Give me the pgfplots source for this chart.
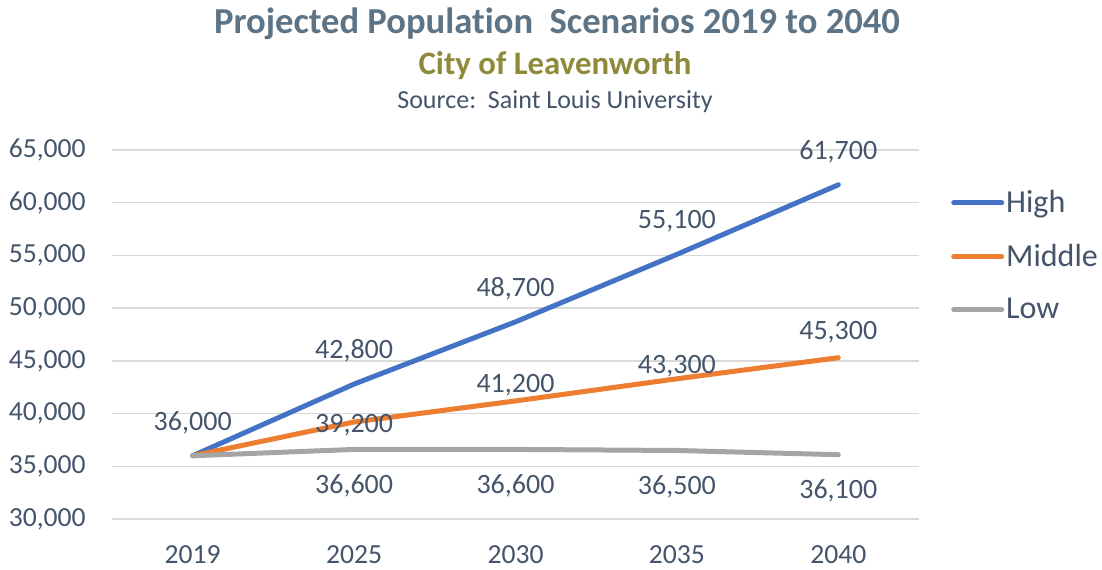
\documentclass[border=0pt]{standalone}
\usepackage{fontspec}
\setmainfont{Carlito}[Ligatures={NoCommon}]
\usepackage{pgfplots}
\pgfplotsset{compat=1.18}
\definecolor{txt}{HTML}{44546A}
\definecolor{ttl}{HTML}{5D7486}
\definecolor{sub}{HTML}{8E8A3A}
\definecolor{gridc}{HTML}{D9D9D9}
\definecolor{hi}{HTML}{4472C4}
\definecolor{mid}{HTML}{ED7D31}
\definecolor{lo}{HTML}{A5A5A5}

% year index, population
\pgfplotstableread{
x y
0 36000
1 42800
2 48700
3 55100
4 61700
}\high
\pgfplotstableread{
x y
0 36000
1 39200
2 41200
3 43300
4 45300
}\middle
\pgfplotstableread{
x y
0 36000
1 36600
2 36600
3 36500
4 36100
}\low
% label offsets (pt)
\pgfplotstableread{
x y dy
1 39200 -1.5
2 41200 8
3 43300 6.5
4 45300 12.5
}\midlab

\begin{document}
\begin{tikzpicture}
\useasboundingbox (-56pt,-25pt) rectangle (495pt,259.5pt);
\node[font=\bfseries\fontsize{18.3}{21}\selectfont, text=ttl] at (222.5pt,247.5pt) {Projected Population\ \ Scenarios 2019 to 2040};
\node[font=\bfseries\fontsize{16.4}{19}\selectfont, text=sub] at (221.5pt,226.5pt) {City of Leavenworth};
\node[font=\fontsize{13}{15}\selectfont, text=txt] at (221.5pt,208.5pt) {Source:\ \ Saint Louis University};
\begin{axis}[
  at={(0pt,0pt)}, anchor=south west,
  scale only axis, width=403.5pt, height=184.5pt,
  xmin=-0.5, xmax=4.5, ymin=30000, ymax=65000,
  xtick={0,...,4}, xticklabels={2019,2025,2030,2035,2040},
  ytick={30000,35000,...,65000},
  scaled y ticks=false,
  /pgf/number format/assume math mode=true,
  /pgf/number format/1000 sep={,},
  axis line style={draw=none}, major tick length=0pt,
  ymajorgrids, grid style={color=gridc, line width=0.75pt},
  tick label style={font=\fontsize{13.8}{16}\selectfont, text=txt},
  yticklabel style={inner sep=0pt, xshift=-13pt},
  xticklabel style={inner sep=0pt, yshift=-13pt},
  legend style={at={(1.032,0.908)}, anchor=north west, draw=none, fill=none,
    font=\fontsize{16}{19}\selectfont, text=txt, row sep=12.25pt,
    nodes={inner sep=1pt}},
  legend cell align=left,
  legend image code/.code={\draw[#1, line cap=round] (0pt,0pt) -- (24pt,0pt);},
  every axis plot/.append style={line width=2.5pt, line cap=round, line join=round},
  datalab/.style={draw=none, forget plot, nodes near coords,
    every node near coord/.style={font=\fontsize{14}{16}\selectfont, text=txt, anchor=center, yshift=#1}},
]
\addplot[hi] table[x=x,y=y] {\high};
\addlegendentry{High}
\addplot[mid] table[x=x,y=y] {\middle};
\addlegendentry{Middle}
\addplot[lo] table[x=x,y=y] {\low};
\addlegendentry{Low}
\addplot[datalab=16.5pt] table[x=x,y=y] {\high};
\addplot[draw=none, forget plot, nodes near coords,
  visualization depends on={\thisrow{dy} \as \dy},
  every node near coord/.style={font=\fontsize{14}{16}\selectfont, text=txt, anchor=center, yshift=\dy pt}]
  table[x=x,y=y] {\midlab};
\addplot[datalab=-18pt] table[x=x,y=y] {
x y
1 36600
2 36600
3 36500
4 36100
};
\end{axis}
\end{tikzpicture}
\end{document}
